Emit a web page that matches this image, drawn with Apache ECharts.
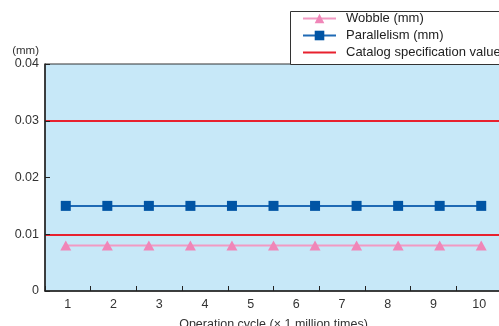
<!DOCTYPE html>
<html><head><meta charset="utf-8">
<script src="https://cdn.jsdelivr.net/npm/echarts@6/dist/echarts.min.js"></script>
<style>html,body{margin:0;padding:0;background:#fff}#c{width:499px;height:326px}</style>
</head><body><div id="c"></div>
<script>
const cycleLabels = ['1','2','3','4','5','6','7','8','9','10'];
const measurePoints = ['p0','p1','p2','p3','p4','p5','p6','p7','p8','p9','p10'];
const wobble = [0.008,0.008,0.008,0.008,0.008,0.008,0.008,0.008,0.008,0.008,0.008];
const parallelism = [0.015,0.015,0.015,0.015,0.015,0.015,0.015,0.015,0.015,0.015,0.015];
const specValues = [0.01, 0.03];
const yTicks = [0, 0.01, 0.02, 0.03, 0.04];

const FONT = 'Liberation Sans, Arial, Helvetica, sans-serif';
const chart = echarts.init(document.getElementById('c'), null, {renderer:'canvas'});
chart.setOption({
  animation:false,
  textStyle:{fontFamily:FONT},
  graphic:[{type:'rect', shape:{x:290.5, y:11.5, width:230, height:53}, style:{fill:'#fff', stroke:'#333', lineWidth:1}, z:-1}],
  legend:{
    orient:'vertical', left:302, top:12, itemWidth:33, itemHeight:12, itemGap:4, padding:0,
    textStyle:{fontSize:13, color:'#222', fontFamily:FONT, padding:[0,0,0,5]},
    data:['Wobble (mm)','Parallelism (mm)',{name:'Catalog specification value', itemStyle:{opacity:0}}]
  },
  grid:{left:45, top:64, width:457, height:227, show:true, z:-5, backgroundColor:'#c7e8f8', borderColor:'#333', borderWidth:1, outerBoundsMode:'none', containLabel:false},
  xAxis:[
    {type:'category', data:cycleLabels, position:'bottom', z:5,
     axisLine:{lineStyle:{color:'#222', width:1.5}},
     axisTick:{show:true, inside:true, length:5, lineStyle:{color:'#222', width:1}},
     axisLabel:{fontSize:12.5, color:'#333', margin:7},
     name:'Operation cycle (× 1 million times)', nameLocation:'middle', nameGap:27,
     nameTextStyle:{fontSize:12.5, color:'#333'}},
    {type:'category', data:measurePoints, show:false}
  ],
  yAxis:{type:'value', min:yTicks[0], max:yTicks[yTicks.length-1], interval:0.01, z:5,
    name:'(mm)', nameLocation:'end', nameGap:7,
    nameTextStyle:{fontSize:11.5, color:'#333', align:'right', padding:[0,6,0,0]},
    axisLine:{show:true, lineStyle:{color:'#222', width:1.5}},
    axisTick:{show:true, inside:true, length:5, lineStyle:{color:'#222', width:1}},
    axisLabel:{fontSize:12.5, color:'#333', margin:6, formatter:v=>String(+v.toFixed(2))},
    splitLine:{show:false}},
  series:[
    {name:'Wobble (mm)', type:'line', xAxisIndex:1, data:wobble, symbol:'triangle', symbolSize:[11,10],
     lineStyle:{color:'#f29ac3', width:2}, itemStyle:{color:'#f086b8'}},
    {name:'Parallelism (mm)', type:'line', xAxisIndex:1, data:parallelism, symbol:'rect', symbolSize:10,
     lineStyle:{color:'#1f6ab5', width:2}, itemStyle:{color:'#0054a4'}},
    {name:'Catalog specification value', type:'line', xAxisIndex:1, data:[], symbol:'none',
     lineStyle:{color:'#e8212e', width:2}, itemStyle:{color:'#e8212e'},
     markLine:{silent:true, symbol:'none', label:{show:false}, lineStyle:{color:'#e8212e', width:2, type:'solid'},
       data:specValues.map(v=>({yAxis:v}))}}
  ]
});
</script></body></html>
